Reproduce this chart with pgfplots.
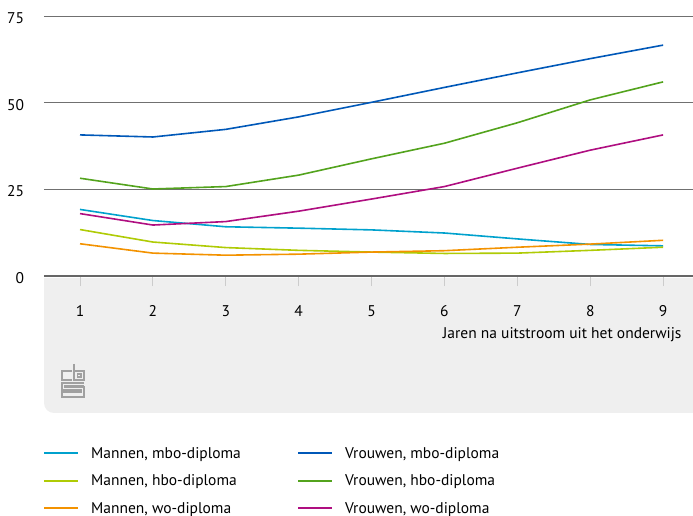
\documentclass[border=0pt]{standalone}
\usepackage{fontspec}
\setmainfont{PT Sans}
\usepackage{pgfplots}
\pgfplotsset{compat=1.18}
\usetikzlibrary{backgrounds}

\definecolor{manmbo}{HTML}{00A1CD}
\definecolor{vrouwmbo}{HTML}{0058B8}
\definecolor{manhbo}{HTML}{AFCB05}
\definecolor{vrouwhbo}{HTML}{53A31D}
\definecolor{manwo}{HTML}{F39200}
\definecolor{vrouwwo}{HTML}{AF0E80}
\definecolor{panel}{HTML}{EFEFEF}
\definecolor{gridc}{HTML}{707070}
\definecolor{basec}{HTML}{666666}
\definecolor{tickc}{HTML}{CCCCCC}
\definecolor{logoc}{HTML}{A0A0A0}

\begin{document}
\begin{tikzpicture}[font=\fontsize{15.5}{18}\selectfont]
  \begin{axis}[
      scale only axis,
      width=649pt, height=260pt,
      xmin=0.506, xmax=9.41,
      ymin=0, ymax=75,
      axis line style={draw=none},
      xtick={1,...,9},
      ytick={0,25,50,75},
      ymajorgrids,
      grid style={gridc, line width=0.9pt},
      tick align=outside,
      major tick length=10pt,
      xtick pos=bottom,
      ytick pos=left,
      xtick style={tickc, line width=1pt},
      ytick style={draw=none},
      yticklabel style={anchor=east, xshift=-6.5pt, yshift=-2pt},
      xticklabel style={yshift=-16pt},
      /pgf/number format/assume math mode=true,
      xlabel={Jaren na uitstroom uit het onderwijs},
      xlabel style={at={(rel axis cs:1,0)}, anchor=east, xshift=-8pt, yshift=-59pt},
      legend columns=2,
      legend cell align=left,
      legend style={draw=none, fill=none, at={(rel axis cs:0,0)}, anchor=north west,
        xshift=-4pt, yshift=-167pt, row sep=11pt,
        /tikz/every odd column/.append style={column sep=10pt}},
      legend image code/.code={\draw[#1, line width=2pt, line cap=butt] (0pt,0pt) -- (34pt,0pt);},
      every axis plot/.append style={line width=1.6pt},
    ]
    \addplot[manmbo] coordinates {(1,19.2) (2,16.0) (3,14.2) (4,13.8) (5,13.3) (6,12.4) (7,10.7) (8,9.1) (9,8.7)};
    \addlegendentry{\makebox[204pt][l]{Mannen, mbo-diploma}}
    \addplot[vrouwmbo] coordinates {(1,40.7) (2,40.1) (3,42.3) (4,45.9) (5,50.1) (6,54.4) (7,58.6) (8,62.7) (9,66.6)};
    \addlegendentry{Vrouwen, mbo-diploma}
    \addplot[manhbo] coordinates {(1,13.4) (2,9.8) (3,8.2) (4,7.4) (5,6.9) (6,6.5) (7,6.6) (8,7.4) (9,8.3)};
    \addlegendentry{\makebox[204pt][l]{Mannen, hbo-diploma}}
    \addplot[vrouwhbo] coordinates {(1,28.2) (2,25.1) (3,25.8) (4,29.1) (5,33.8) (6,38.3) (7,44.2) (8,50.8) (9,56.0)};
    \addlegendentry{Vrouwen, hbo-diploma}
    \addplot[manwo] coordinates {(1,9.3) (2,6.6) (3,6.0) (4,6.3) (5,6.9) (6,7.3) (7,8.3) (8,9.2) (9,10.3)};
    \addlegendentry{\makebox[204pt][l]{Mannen, wo-diploma}}
    \addplot[vrouwwo] coordinates {(1,18.0) (2,14.7) (3,15.7) (4,18.7) (5,22.2) (6,25.8) (7,31.1) (8,36.3) (9,40.7)};
    \addlegendentry{Vrouwen, wo-diploma}

    \draw[basec, line width=2.6pt] (rel axis cs:0,0) -- (rel axis cs:1,0);
  \end{axis}

  % grey panel below the axis
  \begin{scope}[on background layer]
    \fill[panel] ([yshift=-2pt]current axis.south west) -- ([yshift=-127pt]current axis.south west)
      arc[start angle=180, end angle=270, radius=10pt] -- ([yshift=-137pt]current axis.south east)
      -- ([yshift=-2pt]current axis.south east) -- cycle;
  \end{scope}

  % cbs logo
  \begin{scope}[shift={(current axis.south west)}, logoc, line width=1.1pt]
    \draw (28pt,-95pt) -- (18pt,-95pt) -- (18pt,-104pt) -- (28pt,-104pt);
    \draw (30pt,-88pt) -- (30pt,-104pt) -- (40pt,-104pt) -- (40pt,-95pt) -- (30pt,-95pt);
    \draw (33.5pt,-98pt) rectangle (37pt,-101pt);
    \draw (40pt,-107pt) -- (18pt,-107pt) -- (18pt,-114pt) -- (37pt,-114pt) -- (37pt,-116pt) -- (18pt,-116pt) -- (18pt,-121pt) -- (40pt,-121pt) -- (40pt,-111pt) -- (21pt,-111pt) -- (21pt,-110pt) -- (40pt,-110pt);
  \end{scope}

  \pgfresetboundingbox
  \useasboundingbox ([xshift=-44pt, yshift=16pt]current axis.north west) rectangle ([yshift=-240pt]current axis.south east);
\end{tikzpicture}
\end{document}
